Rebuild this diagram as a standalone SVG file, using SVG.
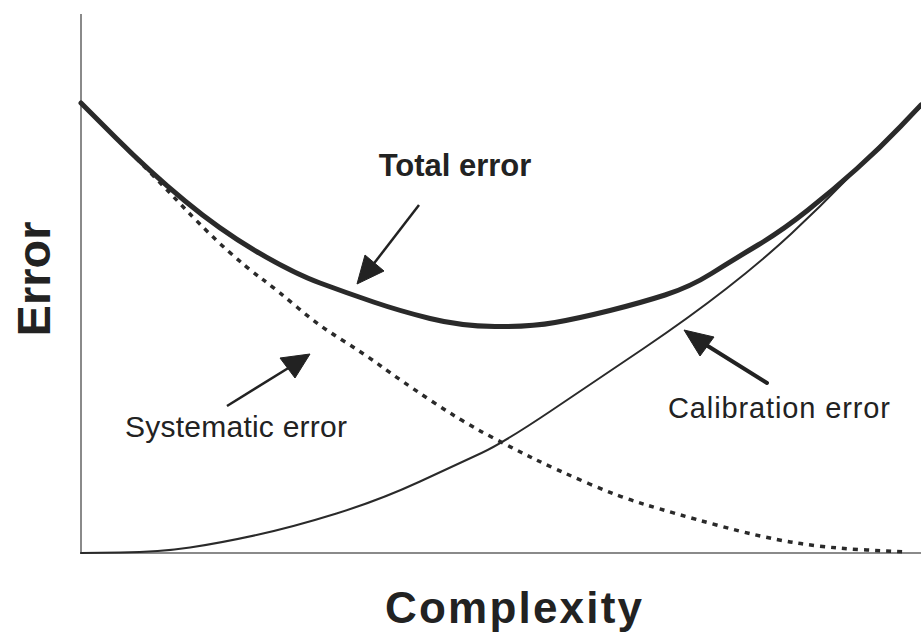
<svg xmlns="http://www.w3.org/2000/svg" width="921" height="634" viewBox="0 0 921 634">
<style>
.axis{stroke:#8a8a8a;stroke-width:2;fill:none}
.curve{fill:none;stroke:#2a2a2a;stroke-linejoin:round;stroke-linecap:round}
.total{stroke-width:5}
.calib{stroke-width:2}
.syst{stroke-width:3.5;stroke-dasharray:5 6;stroke-linecap:butt}
.lbl{font-family:"Liberation Sans",Arial,sans-serif;fill:#222}
.b{font-weight:bold}
.arr{stroke:#222;fill:none}
.head{fill:#222;stroke:#222;stroke-linejoin:round;stroke-width:1}
</style>
<rect width="921" height="634" fill="#fff"/>
<g id="axes">
<line class="axis" x1="81" y1="14" x2="81" y2="554"/>
<line class="axis" x1="80" y1="553" x2="921" y2="553"/>
</g>
<g id="systematic-curve">
<path class="curve syst" d="M81,103 L115.5,137.5 Q150,172 178.5,202 Q207,232 227,250 Q247,268 262,279 Q277,290 297.5,307.5 Q318,325 340.5,339 Q363,353 381.5,366.5 Q400,380 430,400 Q460,420 485,433.5 Q510,447 533.5,458.5 Q557,470 588.5,483.5 Q620,497 646.5,505 Q673,513 716.5,525 Q760,537 793.5,542.5 Q827,548 867,550 L907,552"/>
</g>
<g id="calibration-curve">
<path class="curve calib" d="M81,553 L120.5,552.5 Q160,552 190,547.5 Q220,543 256.5,535 Q293,527 336.5,513.5 Q380,500 420,481.5 Q460,463 481.5,453 Q503,443 550,411.5 Q597,380 643.5,348.5 Q690,317 726.5,288.5 Q763,260 791.5,233.5 Q820,207 847.5,178.5 Q875,150 898,128.5 L921,107"/>
</g>
<g id="total-curve">
<path class="curve total" d="M81,103 L115.5,137.5 Q150,172 185,201 Q220,230 256.5,251.5 Q293,273 320,283 Q347,293 373.5,302 Q400,311 430,318.5 Q460,326 495,326.5 Q530,327 555,322.5 Q580,318 610,310.5 Q640,303 665,295 Q690,287 711.5,273.5 Q733,260 758,245 Q783,230 808,210 Q833,190 856.5,169 Q880,148 900.5,126.5 L921,105"/>
</g>
<g id="connectors">
<line class="arr" stroke-width="2.5" x1="419" y1="205" x2="372" y2="266"/>
<polygon class="head" points="365,255 384,271 357,284"/>
<line class="arr" stroke-width="2.5" x1="227" y1="406" x2="290" y2="367"/>
<polygon class="head" points="280,358 295,378 310,354"/>
<line class="arr" stroke-width="4" x1="767" y1="383" x2="703" y2="343" stroke-linecap="round"/>
<polygon class="head" points="700,356 714,337 684,330"/>
</g>
<g id="label-total">
<text class="lbl b" x="455" y="176" font-size="31" text-anchor="middle">Total error</text>
</g>
<g id="label-systematic">
<text class="lbl" x="125" y="437" font-size="30" textLength="222">Systematic error</text>
</g>
<g id="label-calibration">
<text class="lbl" x="668" y="418" font-size="29" textLength="222">Calibration error</text>
</g>
<g id="label-error">
<text class="lbl b" transform="translate(50,279) rotate(-90)" font-size="47" text-anchor="middle">Error</text>
</g>
<g id="label-complexity">
<text class="lbl b" x="385" y="623" font-size="44" textLength="257">Complexity</text>
</g>
</svg>
